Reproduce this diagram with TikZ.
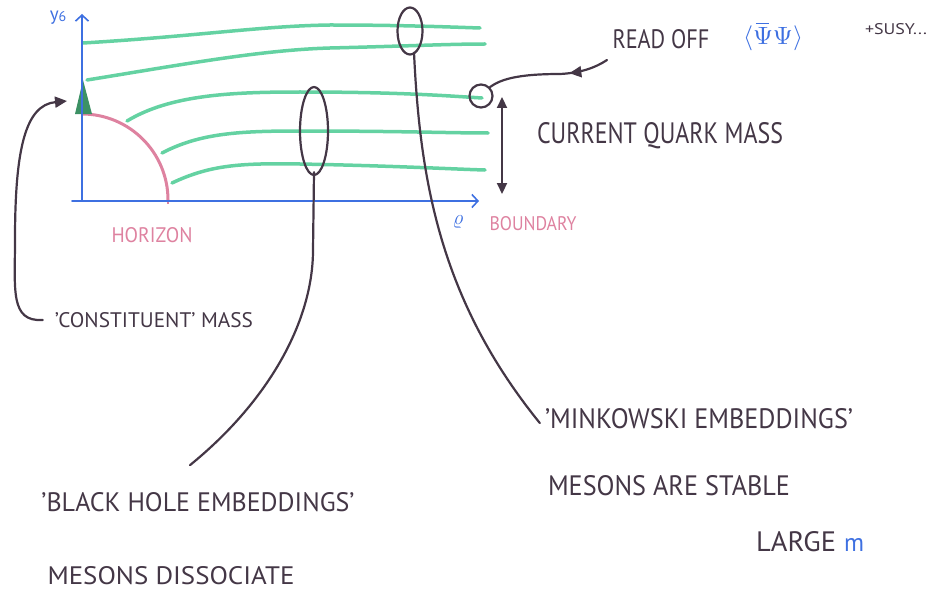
\documentclass[tikz,border=0pt]{standalone}
\usepackage{fontspec}
\setmainfont{PT Sans}
\usetikzlibrary{arrows.meta,decorations.markings,shapes.geometric}
\definecolor{ink}{RGB}{68,55,70}
\definecolor{mint}{RGB}{100,210,162}
\definecolor{dkgreen}{RGB}{60,145,100}
\definecolor{axblue}{RGB}{62,112,225}
\definecolor{hpink}{RGB}{222,130,160}
\newcommand\hw[3]{\resizebox{#1pt}{#2pt}{#3}}
\begin{document}
\begin{tikzpicture}[x=1pt,y=-1pt,
  brane/.style={draw=mint,line width=3.5pt,line cap=round},
  axisline/.style={draw=axblue,line width=1.8pt,line cap=round,-{Straight Barb[length=6pt,width=13pt,line width=1.6pt]}},
  inkline/.style={draw=ink,line width=2.2pt,line cap=round},
  blob/.style={draw=ink,line width=2.2pt,ellipse,inner sep=0pt},
  lbl/.style={text=ink,inner sep=0pt,font=\fontsize{20}{22}\selectfont},
  bigtip/.style={-{Triangle[length=12pt,width=11pt]}},
]
\useasboundingbox (0,0) rectangle (949,591);

% horizon and cone
\draw[hpink,line width=3pt] (82,114) .. controls (129.5,114) and (168,152.5) .. (168,200);
\draw[hpink,line width=2pt] (168,195) -- (168,204);
\fill[dkgreen] (83,80) -- (75,114) -- (92,114) -- cycle;

% branes
\draw[brane] (83,43) .. controls (200,36) and (260,26) .. (330,25) .. controls (400,25) and (450,27) .. (480,28);
\draw[brane] (87,80) .. controls (180,65) and (260,50) .. (330,48) .. controls (410,46) and (450,44) .. (485,44);
\draw[brane] (127,121) .. controls (170,95) and (230,92) .. (300,92) .. controls (400,92) and (450,96) .. (482,98);
\draw[brane] (162,153) .. controls (200,133) and (240,131) .. (300,131) .. controls (400,131) and (450,133) .. (488,133);
\draw[brane] (172,183) .. controls (210,165) and (240,163) .. (300,164) .. controls (400,166) and (450,169) .. (485,170);

% axes
\coordinate (origin) at (82,201);
\coordinate (xstart) at (72,201);
\coordinate (yend) at (82,14);
\coordinate (xend) at (479,201);
\draw[axisline] (origin) -- (yend);
\draw[axisline] (xstart) -- (xend);
\node[text=axblue,inner sep=0pt,font=\fontsize{19}{20}\selectfont] (y6) at (58,18) {y\raisebox{-1pt}{\fontsize{14}{15}\selectfont 6}};
\node[text=axblue,inner sep=0pt,font=\fontsize{20}{22}\selectfont] (rho) at (458,222) {$\varrho$};

% blobs
\node[blob,minimum width=28pt,minimum height=88pt] (e1) at (314,131) {};
\node[blob,minimum width=25pt,minimum height=47pt] (e2) at (410,31) {};
\node[blob,circle,minimum size=23pt] (c1) at (481,96) {};

% labels
\node[lbl,text=hpink] (hor) at (152,235) {\hw{81}{15}{HORIZON}};
\node[lbl,text=hpink] (bnd) at (533,224) {\hw{87}{14}{BOUNDARY}};
\node[lbl] (readoff) at (661,39) {\hw{97}{19}{READ OFF}};
\node[text=axblue,inner sep=0pt] (psi) at (773,38) {\resizebox*{60pt}{25pt}{$\langle\Psi\Psi\rangle$}};
\draw[axblue,line width=1.5pt] ([xshift=13pt,yshift=2pt]psi.north west) -- ([xshift=26pt,yshift=2pt]psi.north west);
\node[lbl] (susy) at (896,29) {\hw{62}{11}{+SUSY...}};
\node[lbl] (cqm) at (660,136) {\hw{246}{21}{CURRENT QUARK MASS}};
\node[lbl] (cons) at (154,320) {\hw{198}{15}{'CONSTITUENT' MASS}};
\node[lbl] (bh) at (198,502) {\hw{313}{19}{'BLACK HOLE EMBEDDINGS'}};
\node[lbl] (diss) at (171,576) {\hw{247}{18}{MESONS DISSOCIATE}};
\node[lbl] (mink) at (699,419) {\hw{308}{20}{'MINKOWSKI EMBEDDINGS'}};
\node[lbl] (stab) at (669,486) {\hw{242}{20}{MESONS ARE STABLE}};
\node[lbl] (large) at (810,542) {\hw{80}{20}{LARGE}\hspace{8pt}\textcolor{axblue}{\hw{20}{13}{m}}};

% connectors
\draw[inkline] (bh.north) ++(-8,-27) coordinate (bhend)
  (bhend) .. controls (270,400) and (313,320) .. (313,250) -- ([yshift=4pt]e1.south);
\draw[inkline] ([xshift=4pt,yshift=3pt]e2.south) .. controls (420,180) and (440,300) .. ([xshift=-5pt,yshift=-4pt]mink.west);
\draw[inkline,bigtip] ([xshift=-12pt]cons.west) .. controls (10,322) and (15,290) .. (15,240) .. controls (15,150) and (25,105) .. (67,101);
\coordinate (qtop) at (502,97);
\coordinate (qbot) at (502,194);
\draw[inkline,{Triangle[length=11pt,width=10pt]}-{Triangle[length=11pt,width=10pt]}] (qbot) -- (qtop);
\coordinate (rd) at (607,60);
\draw[inkline,decoration={markings,mark=at position 0.33 with {\arrow{Triangle[length=12pt,width=11pt]}}},postaction=decorate]
  (rd) .. controls (595,68) and (580,73) .. (560,74) .. controls (515,74) and (500,80) .. (c1.north east);
\end{tikzpicture}
\end{document}
